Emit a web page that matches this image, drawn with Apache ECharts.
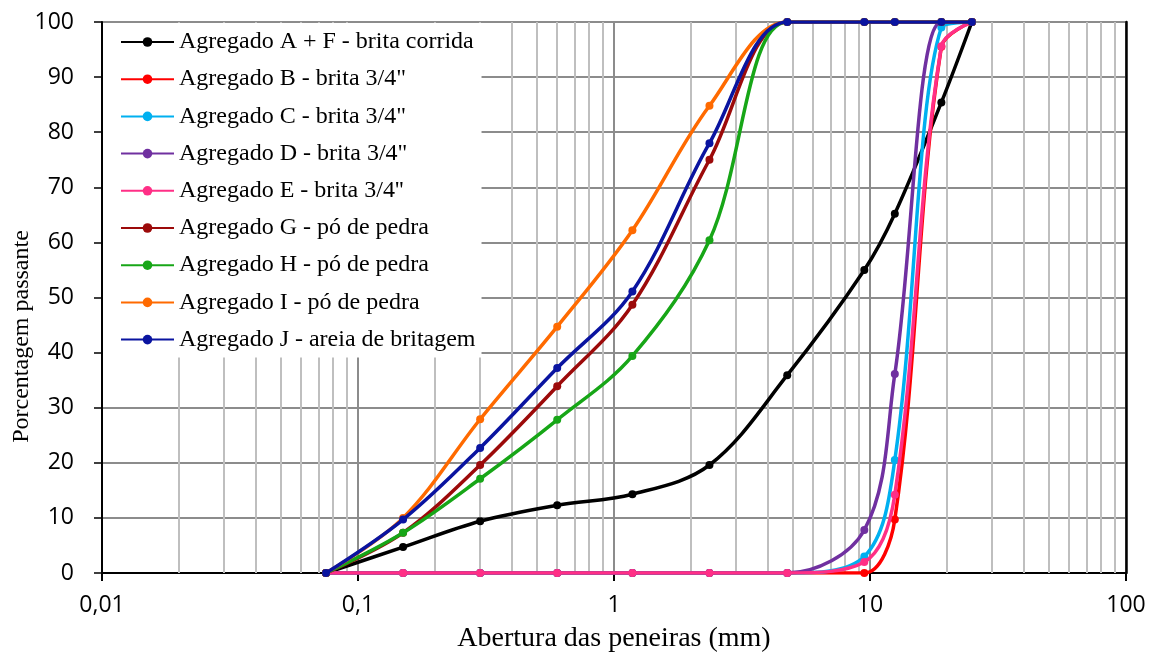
<!DOCTYPE html>
<html>
<head>
<meta charset="utf-8">
<script src="https://cdn.jsdelivr.net/npm/echarts@6/dist/echarts.min.js"></script>
<style>
html,body{margin:0;padding:0;background:#fff;}
#chart{width:1156px;height:655px;}
</style>
</head>
<body>
<div id="chart"></div>
<script>
// Sieve openings (mm)
const sieves = [0.075, 0.15, 0.3, 0.6, 1.18, 2.36, 4.75, 9.5, 12.5, 19, 25];

// Percent passing for each aggregate
const agregadoAF = [0, 4.7, 9.4, 12.3, 14.3, 19.6, 35.9, 55.0, 65.2, 85.4, 100];
const agregadoB  = [0, 0, 0, 0, 0, 0, 0, 0, 9.7, 95.5, 100];
const agregadoC  = [0, 0, 0, 0, 0, 0, 0, 3.0, 20.5, 99, 100];
const agregadoD  = [0, 0, 0, 0, 0, 0, 0, 7.8, 36.1, 100, 100];
const agregadoE  = [0, 0, 0, 0, 0, 0, 0, 2.0, 14.2, 95.6, 100];
const agregadoG  = [0, 7.3, 19.6, 33.9, 48.7, 75.0, 100, 100, 100, 100, 100];
const agregadoH  = [0, 7.3, 17.1, 27.8, 39.4, 60.4, 100, 100, 100, 100, 100];
const agregadoI  = [0, 10.0, 27.9, 44.7, 62.2, 84.8, 100, 100, 100, 100, 100];
const agregadoJ  = [0, 9.7, 22.7, 37.2, 51.1, 78.0, 100, 100, 100, 100, 100];

const seriesNames = [
  'Agregado A + F - brita corrida',
  'Agregado B - brita 3/4"',
  'Agregado C - brita 3/4"',
  'Agregado D - brita 3/4"',
  "Agregado E - brita 3/4''",
  'Agregado G - pó de pedra',
  'Agregado H - pó de pedra',
  'Agregado I - pó de pedra',
  'Agregado J - areia de britagem'
];
const seriesValues = [agregadoAF, agregadoB, agregadoC, agregadoD, agregadoE, agregadoG, agregadoH, agregadoI, agregadoJ];
const seriesColors = ['#000000', '#ff0000', '#00b0f0', '#7030a0', '#ff2f86', '#9c0a0a', '#17a617', '#ff6a00', '#0a14a0'];

// Axis ticks
const xMin = 0.01, xMax = 100;
const yTicks = [0, 10, 20, 30, 40, 50, 60, 70, 80, 90, 100];
const minorX = [0.02,0.03,0.04,0.05,0.06,0.07,0.08,0.09,
                0.2,0.3,0.4,0.5,0.6,0.7,0.8,0.9,
                2,3,4,5,6,7,8,9,
                20,30,40,50,60,70,80,90];

const serif = '"Liberation Serif", "Times New Roman", serif';
const sans = '"Open Sans", "Liberation Sans", sans-serif';

const series = seriesValues.map((vals, i) => ({
  name: seriesNames[i],
  type: 'line',
  data: vals.map((v, j) => [sieves[j], v]),
  smooth: 0.35,
  symbol: 'circle',
  symbolSize: 8,
  showSymbol: true,
  color: seriesColors[i],
  lineStyle: { width: 3.5, color: seriesColors[i] },
  itemStyle: { color: seriesColors[i] },
  z: 2 + i * 0.01,
  animation: false
}));

series.unshift({
  name: '__grid',
  type: 'line',
  data: [],
  silent: true,
  animation: false,
  markLine: {
    silent: true,
    z: 1,
    symbol: ['none', 'none'],
    label: { show: false },
    animation: false,
    lineStyle: { color: '#bfbfbf', width: 2, type: 'solid' },
    emphasis: { disabled: true },
    data: minorX.map(v => ({ xAxis: v }))
  }
});

const chart = echarts.init(document.getElementById('chart'));
chart.setOption({
  animation: false,
  backgroundColor: '#ffffff',
  grid: { left: 102, top: 22, width: 1024, height: 551, containLabel: false, outerBoundsMode: 'none' },
  legend: {
    data: seriesNames,
    orient: 'vertical',
    left: 103,
    top: 23,
    backgroundColor: '#ffffff',
    padding: [7, 6, 6, 17],
    itemWidth: 53,
    itemHeight: 12,
    itemGap: 13.2,
    z: 10,
    selectedMode: false,
    textStyle: { fontFamily: serif, fontSize: 24, color: '#000', lineHeight: 24 }
  },
  xAxis: [{
    type: 'log',
    logBase: 10,
    min: xMin,
    max: xMax,
    name: 'Abertura das peneiras (mm)',
    nameLocation: 'middle',
    nameGap: 52,
    nameTextStyle: { fontFamily: serif, fontSize: 28, color: '#000' },
    axisLine: { show: true, onZero: false, lineStyle: { color: '#000', width: 2 } },
    axisTick: { show: true, inside: false, length: 8, lineStyle: { color: '#000', width: 2 } },
    axisLabel: {
      margin: 21,
      fontFamily: sans, fontSize: 23, color: '#000',
      formatter: v => String(Number(Number(v).toPrecision(3))).replace('.', ',')
    },
    splitLine: { show: true, lineStyle: { color: '#8c8c8c', width: 2 } },
    minorTick: { show: false },
    minorSplitLine: { show: false }
  }, {
    type: 'log',
    logBase: 10,
    min: xMin,
    max: xMax,
    position: 'top',
    axisLine: { show: true, lineStyle: { color: '#000', width: 1.5 } },
    axisTick: { show: false },
    axisLabel: { show: false },
    splitLine: { show: false }
  }],
  yAxis: [{
    type: 'value',
    min: yTicks[0],
    max: yTicks[yTicks.length - 1],
    interval: 10,
    name: 'Porcentagem passante',
    nameLocation: 'middle',
    nameGap: 68,
    nameMoveOverlap: false,
    nameTextStyle: { fontFamily: serif, fontSize: 24, color: '#000', padding: [0, 78, 0, 0] },
    axisLine: { show: true, onZero: false, lineStyle: { color: '#000', width: 2 } },
    axisTick: { show: true, inside: false, length: 8, lineStyle: { color: '#000', width: 1.5 } },
    axisLabel: { margin: 28, fontFamily: sans, fontSize: 23, color: '#000' },
    splitLine: { show: true, lineStyle: { color: '#8c8c8c', width: 2 } }
  }, {
    type: 'value',
    min: yTicks[0],
    max: yTicks[yTicks.length - 1],
    interval: 10,
    position: 'right',
    axisLine: { show: true, lineStyle: { color: '#000', width: 2.5 } },
    axisTick: { show: false },
    axisLabel: { show: false },
    splitLine: { show: false }
  }],
  series: series
});
</script>
</body>
</html>
